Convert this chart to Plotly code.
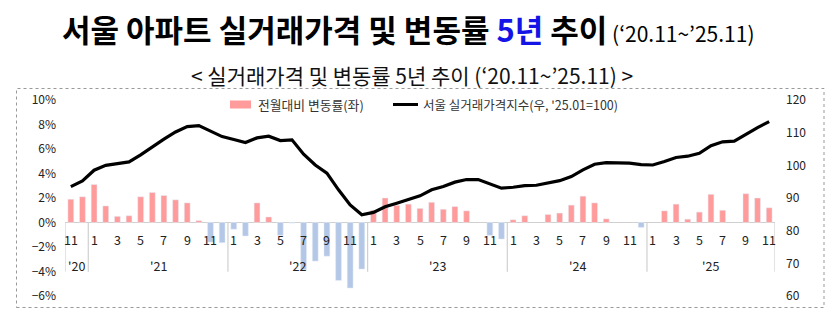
import plotly.graph_objects as go

# ---- data ----
months = ["11", "12"] + [str(m) for m in range(1, 13)] * 4 + [str(m) for m in range(1, 12)]
years = ["'20", "'21", "'22", "'23", "'24", "'25"]
year_sizes = [2, 12, 12, 12, 12, 11]

change = [1.9, 2.1, 3.1, 1.35, 0.5, 0.55, 2.1, 2.45, 2.2, 1.85, 1.6, 0.15,
          -1.6, -1.65, -0.55, -1.1, 1.6, 0.45, -1.05, -0.05, -3.85, -3.15, -2.75, -4.73,
          -5.35, -3.8, 1.0, 2.0, 1.4, 1.5, 1.15, 1.65, 1.08, 1.3, 0.95, 0.0,
          -1.05, -1.35, 0.22, 0.55, 0.0, 0.65, 0.77, 1.42, 2.15, 1.6, 0.3, 0.0,
          0.0, -0.4, 0.0, 0.95, 1.5, 0.27, 0.85, 2.3, 1.0, 0.0, 2.35, 2.0, 1.2]

index = [93.5, 95.2, 98.5, 100.0, 100.5, 101.05, 103.2, 105.7, 108.0, 110.2, 111.85, 112.15,
         110.4, 108.8, 107.9, 107.0, 108.4, 108.9, 107.6, 107.8, 103.4, 100.1, 97.6, 92.5,
         87.9, 84.85, 85.6, 87.3, 88.4, 89.65, 90.65, 92.5, 93.5, 94.85, 95.65, 95.65,
         94.2, 93.0, 93.3, 93.8, 93.9, 94.6, 95.3, 96.55, 98.6, 100.35, 100.85, 100.75,
         100.65, 100.2, 100.1, 101.15, 102.4, 102.8, 103.7, 106.0, 107.2, 107.4, 109.5, 111.55, 113.4]

title_main = "서울 아파트 실거래가격 및 변동률 "
title_blue = "5년"
title_tail = " 추이"
title_period = " (‘20.11~’25.11)"
subtitle = "< 실거래가격 및 변동률 5년 추이 (‘20.11~’25.11) >"
legend_bar = "전월대비 변동률(좌)"
legend_line = "서울 실거래가격지수(우, '25.01=100)"

# ---- layout constants ----
W, H = 840, 323
ML, MR, MT, MB = 65, 65, 100, 27
PW, PH = W - ML - MR, H - MT - MB

def px(x):
    return (x - ML) / PW

def py(y):
    return (H - MB - y) / PH

FONT = "Noto Sans CJK KR"
PINK = "#FF9B9B"
BLUE = "#B4C7E7"

x = list(range(len(change)))
pos = [v if v > 0 else None for v in change]
neg = [v if v < 0 else None for v in change]

fig = go.Figure()
fig.add_trace(go.Bar(x=x, y=pos, marker_color=PINK, width=0.5, showlegend=False, yaxis="y"))
fig.add_trace(go.Bar(x=x, y=neg, marker_color=BLUE, width=0.5, showlegend=False, yaxis="y"))
fig.add_trace(go.Scatter(x=x, y=index, mode="lines", line=dict(color="black", width=3.2),
                         showlegend=False, yaxis="y2"))

annotations = []
shapes = []

# month labels (every other month)
for i, m in enumerate(months):
    if i % 2 == 0:
        annotations.append(dict(x=i, y=-1.41, xref="x", yref="y", text=m, showarrow=False,
                                font=dict(family=FONT, size=12.5, color="#222")))

# year labels and separators
start = 0
bounds = [-0.5]
for yl, n in zip(years, year_sizes):
    center = start + (n - 1) / 2
    annotations.append(dict(x=center, y=-3.53, xref="x", yref="y", text=yl, showarrow=False,
                            font=dict(family=FONT, size=12.5, color="#222")))
    start += n
    bounds.append(start - 0.5)
for b in bounds:
    shapes.append(dict(type="line", xref="x", yref="y", x0=b, x1=b, y0=0, y1=-4.03,
                       line=dict(color="#D0D0D0", width=1.2), layer="below"))
# zero axis line
shapes.append(dict(type="line", xref="x", yref="y", x0=-0.5, x1=len(change) - 0.5, y0=0, y1=0,
                   line=dict(color="#D0D0D0", width=1.2), layer="below"))

# dotted frame
shapes.append(dict(type="rect", xref="paper", yref="paper", x0=px(16.5), x1=px(824),
                   y0=py(307.5), y1=py(88.5), line=dict(color="#999", width=1, dash="dot")))

# manual legend
shapes.append(dict(type="rect", xref="paper", yref="paper", x0=px(230), x1=px(251),
                   y0=py(108.5), y1=py(100.5), line=dict(width=0), fillcolor=PINK))
annotations.append(dict(x=px(256), y=py(104.5), xref="paper", yref="paper", text=legend_bar,
                        xanchor="left", yanchor="middle", showarrow=False,
                        font=dict(family=FONT, size=12.8, color="#333")))
shapes.append(dict(type="line", xref="paper", yref="paper", x0=px(393), x1=px(418),
                   y0=py(104.5), y1=py(104.5), line=dict(color="black", width=3)))
annotations.append(dict(x=px(421), y=py(104.5), xref="paper", yref="paper", text=legend_line,
                        xanchor="left", yanchor="middle", showarrow=False,
                        font=dict(family=FONT, size=12.5, color="#333")))

# titles
annotations.append(dict(
    x=px(408), y=py(28), xref="paper", yref="paper", showarrow=False,
    xanchor="center", yanchor="middle",
    text=("<b>" + title_main + "<span style='color:#1414E6'>" + title_blue + "</span>" + title_tail + "</b>"
          + "<span style='font-size:21px'>" + title_period + "</span>"),
    font=dict(family=FONT, size=31, color="black")))
annotations.append(dict(x=px(412), y=py(75), xref="paper", yref="paper", showarrow=False,
                        xanchor="center", yanchor="middle",
                        text=subtitle, font=dict(family=FONT, size=21, color="#111")))

fig.update_layout(
    width=W, height=H,
    margin=dict(l=ML, r=MR, t=MT, b=MB),
    paper_bgcolor="white", plot_bgcolor="white",
    barmode="overlay",
    xaxis=dict(range=[-0.5, len(change) - 0.5], showticklabels=False, showgrid=False,
               zeroline=False, showline=False, ticks=""),
    yaxis=dict(range=[-6, 10], dtick=2, ticksuffix="%", showgrid=False, zeroline=False,
               tickfont=dict(family=FONT, size=12, color="#222"), ticks="", ticklabelstandoff=8),
    yaxis2=dict(range=[60, 120], dtick=10, overlaying="y", side="right", showgrid=False,
                zeroline=False, tickfont=dict(family=FONT, size=12, color="#222"), ticks="",
                ticklabelstandoff=10),
    annotations=annotations,
    shapes=shapes,
)

fig.write_html("out.html")
